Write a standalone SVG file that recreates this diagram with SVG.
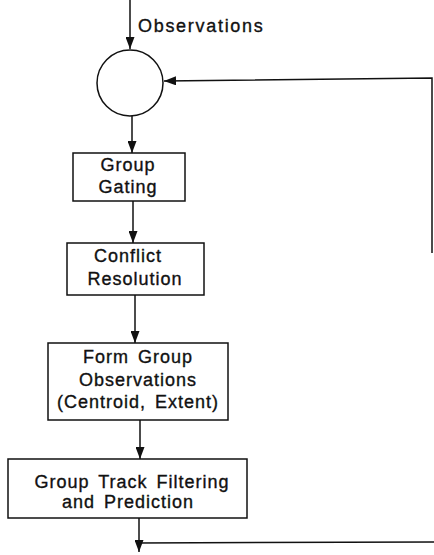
<svg xmlns="http://www.w3.org/2000/svg" width="434" height="555" viewBox="0 0 434 555">
  <style>
    .box { fill: #fff; stroke: #111; stroke-width: 1.5; }
    .lbl { font-family: "Liberation Sans", Arial, sans-serif; font-size: 18px; fill: #111; stroke: #111; stroke-width: 0.35px; text-anchor: middle; letter-spacing: 1px; word-spacing: 3px; }
    .wire { fill: none; stroke: #111; stroke-width: 1.5; }
  </style>
  <defs>
    <marker id="head" viewBox="0 0 12 9" refX="12" refY="4.5" markerWidth="12" markerHeight="9" markerUnits="userSpaceOnUse" orient="auto">
      <path d="M0,0 L12,4.5 L0,9 Z" fill="#111"/>
    </marker>
  </defs>

  <rect width="434" height="555" fill="#fff"/>

  <!-- connectors -->
  <g id="connectors">
    <line class="wire" x1="130" y1="0" x2="130" y2="49" marker-end="url(#head)"/>
    <line class="wire" x1="132" y1="116" x2="132" y2="153" marker-end="url(#head)"/>
    <line class="wire" x1="133" y1="201" x2="133" y2="243" marker-end="url(#head)"/>
    <line class="wire" x1="135" y1="295" x2="135" y2="343" marker-end="url(#head)"/>
    <line class="wire" x1="140" y1="420" x2="140" y2="459" marker-end="url(#head)"/>
    <line class="wire" x1="139" y1="518" x2="139" y2="552" marker-end="url(#head)"/>
    <line class="wire" x1="137" y1="543" x2="434" y2="542"/>
    <polyline class="wire" points="432,253 432,78 164,81" marker-end="url(#head)"/>
  </g>

  <g id="observations-label">
    <text class="lbl" x="138" y="32" style="text-anchor:start;letter-spacing:1.7px">Observations</text>
  </g>

  <g id="sum-node">
    <circle cx="130" cy="83" r="33" fill="#fff" stroke="#111" stroke-width="1.5"/>
  </g>

  <g id="group-gating">
    <rect class="box" x="73" y="153" width="112" height="48"/>
    <text class="lbl" x="128" y="171">Group</text>
    <text class="lbl" x="128" y="193">Gating</text>
  </g>

  <g id="conflict-resolution">
    <rect class="box" x="67" y="243" width="137" height="52"/>
    <text class="lbl" x="128" y="262">Conflict</text>
    <text class="lbl" x="135" y="285">Resolution</text>
  </g>

  <g id="form-group-observations">
    <rect class="box" x="48" y="343" width="180" height="77"/>
    <text class="lbl" x="138" y="363">Form Group</text>
    <text class="lbl" x="138" y="386">Observations</text>
    <text class="lbl" x="138" y="408">(Centroid, Extent)</text>
  </g>

  <g id="group-track-filtering">
    <rect class="box" x="8" y="459" width="239" height="59"/>
    <text class="lbl" x="132" y="488">Group Track Filtering</text>
    <text class="lbl" x="128" y="508">and Prediction</text>
  </g>
</svg>
